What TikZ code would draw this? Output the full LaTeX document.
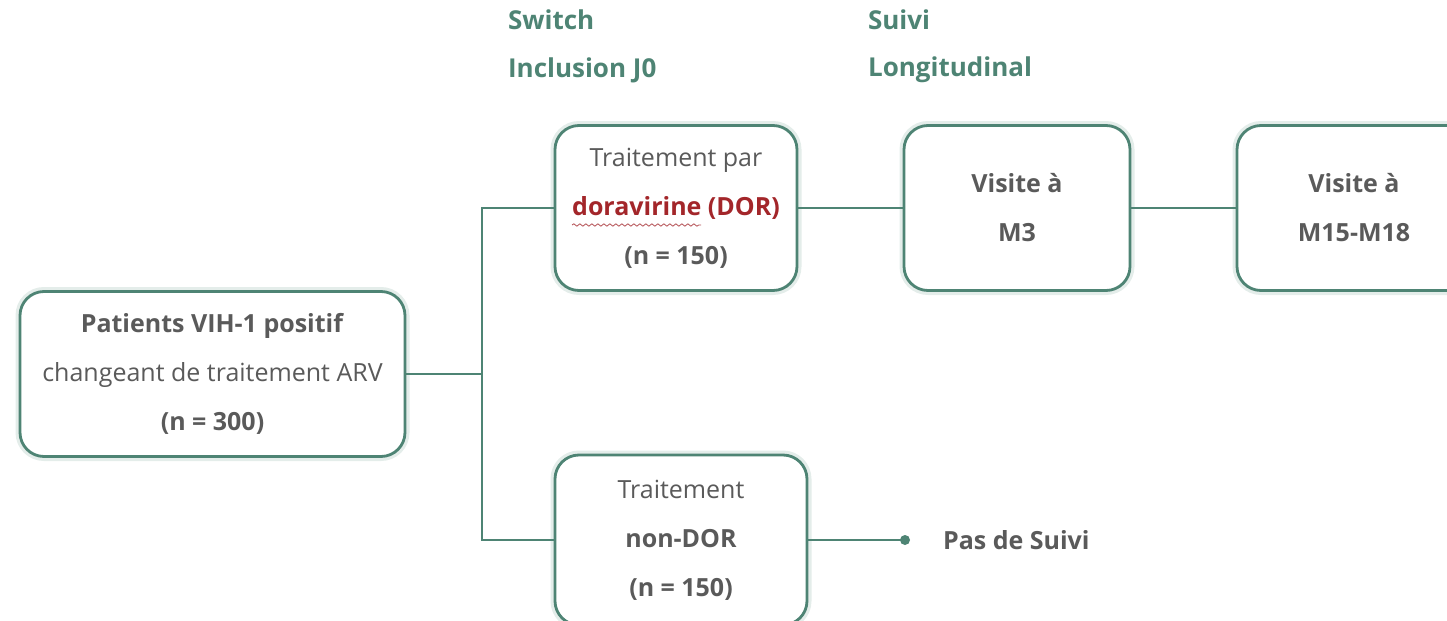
\documentclass[tikz,border=0pt]{standalone}
\usepackage{fontspec}
\setmainfont{Open Sans}
\usetikzlibrary{decorations.pathmorphing}
\definecolor{vert}{HTML}{4E8474}
\definecolor{gristexte}{HTML}{5A5A5A}
\definecolor{rouge}{HTML}{A3262A}
\tikzset{
  boite/.style={draw=vert, line width=1.4pt, rounded corners=12pt, fill=white,
    preaction={draw=vert!15, line width=4.5pt},
    align=center, text=gristexte, minimum height=82.5pt,
    font=\fontsize{12.5}{24.5}\selectfont},
  lien/.style={draw=vert, line width=1pt},
  entete/.style={anchor=west, text=vert, font=\fontsize{13}{14}\selectfont\bfseries}
}
\begin{document}
\begin{tikzpicture}[x=0.5pt, y=-0.5pt]
\useasboundingbox (0,0) rectangle (1447,621);
\clip (0,0) rectangle (1447,621);

\node[entete] (switch) at (501,20) {Switch};
\node[entete] (inclusion) at (501,70) {Inclusion J0};
\node[entete] (suivi) at (861,20) {Suivi};
\node[entete] (longit) at (861,70) {Longitudinal};

\node[boite, minimum width=192.5pt] (patients) at (212.5,374) {\textbf{Patients VIH-1 positif}\\changeant de traitement ARV\\\textbf{(n = 300)}};
\node[boite, minimum width=121pt] (dor) at (676,208) {Traitement par\\\textbf{\textcolor{rouge}{doravirine (DOR)}}\\\textbf{(n = 150)}};
\node[boite, minimum width=113pt] (visitM3) at (1017,208) {\textbf{Visite à}\\\textbf{M3}};
\node[boite, minimum width=117pt] (visitM15) at (1354,208) {\textbf{Visite à}\\\textbf{M15-M18}};
\node[boite, minimum width=126pt, minimum height=85pt] (nondor) at (681,540) {Traitement\\\textbf{non-DOR}\\\textbf{(n = 150)}};

\coordinate (trunk) at (482,374);
\coordinate (fin) at (905,540);
\node[anchor=west, text=gristexte, font=\fontsize{12.5}{14}\selectfont\bfseries] (pas) at (936,540) {Pas de Suivi};

\draw[lien] (patients.east) -- (trunk);
\draw[lien] (dor.west) -| (trunk) |- (nondor.west);
\draw[lien] (dor.east) -- (visitM3.west);
\draw[lien] (visitM3.east) -- (visitM15.west);
\draw[lien] (nondor.east) -- (fin);
\fill[vert] (fin) circle (2.5pt);

% soulignement du correcteur
\draw[rouge!80, line width=0.4pt, decorate, decoration={snake, segment length=3pt, amplitude=0.6pt}] (572,225) -- (701,225);
\end{tikzpicture}
\end{document}
